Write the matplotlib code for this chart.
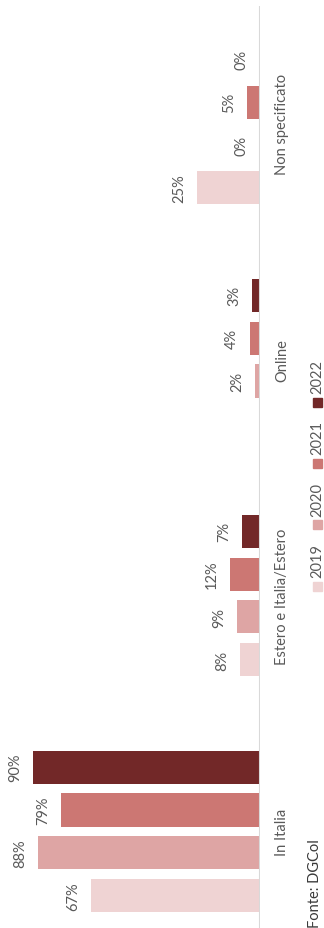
import matplotlib.pyplot as plt
from matplotlib.patches import Rectangle

plt.rcParams['font.family'] = ['Lato', 'DejaVu Sans']

categories = ["In Italia", "Estero e Italia/Estero", "Online", "Non specificato"]
years = ["2019", "2020", "2021", "2022"]
v2019 = [67, 8, None, 25]   # no online bar in 2019
v2020 = [88, 9, 2, 0]
v2021 = [79, 12, 4, 5]
v2022 = [90, 7, 3, 0]
series = [v2019, v2020, v2021, v2022]
colors = ["#efd3d3", "#dea5a4", "#cc7773", "#722828"]
text_col = "#595959"

W, H = 324, 929
fig = plt.figure(figsize=(W / 100, H / 100), dpi=100)
ax = fig.add_axes([0, 0, 260 / W, 922 / H])

offsets = [-0.273, -0.091, 0.091, 0.273]
bar_h = 0.14
for vals, off, col in zip(series, offsets, colors):
    for i, v in enumerate(vals):
        if v is None:
            continue
        y = i + off
        ax.barh(y, v, height=bar_h, color=col)
        ax.annotate(f"{v}%", xy=(v, y), xytext=(-11, 0), textcoords="offset pixels",
                    rotation=90, ha="right", va="center", fontsize=10.5,
                    color=text_col)

for i, c in enumerate(categories):
    ax.annotate(c, xy=(0, i), xytext=(15, 0), textcoords="offset pixels",
                rotation=90, ha="left", va="center", fontsize=10.5,
                color=text_col, annotation_clip=False)

ax.axvline(0, color="#d9d9d9", lw=1.5)
ax.set_xlim(103.1, 0)
ax.set_ylim(-0.409, 3.498)
ax.axis("off")

# legend (rotated, drawn by hand)
for i, (yr, col) in enumerate(zip(years, colors)):
    yc = 587 - 61.3 * i
    fig.patches.append(Rectangle((313 / W, 1 - (yc + 4.5) / H), 9 / W, 9 / H,
                                 transform=fig.transFigure, color=col))
    fig.text(317 / W, 1 - (yc - 9) / H, yr, rotation=90, ha="center", va="bottom",
             fontsize=10.5, color=text_col)

fig.text(315 / W, 1 / H, "Fonte: DGCol", rotation=90, ha="center", va="bottom",
         fontsize=10.5, color="#3a3a3a")

fig.savefig("out.png", dpi=100)
